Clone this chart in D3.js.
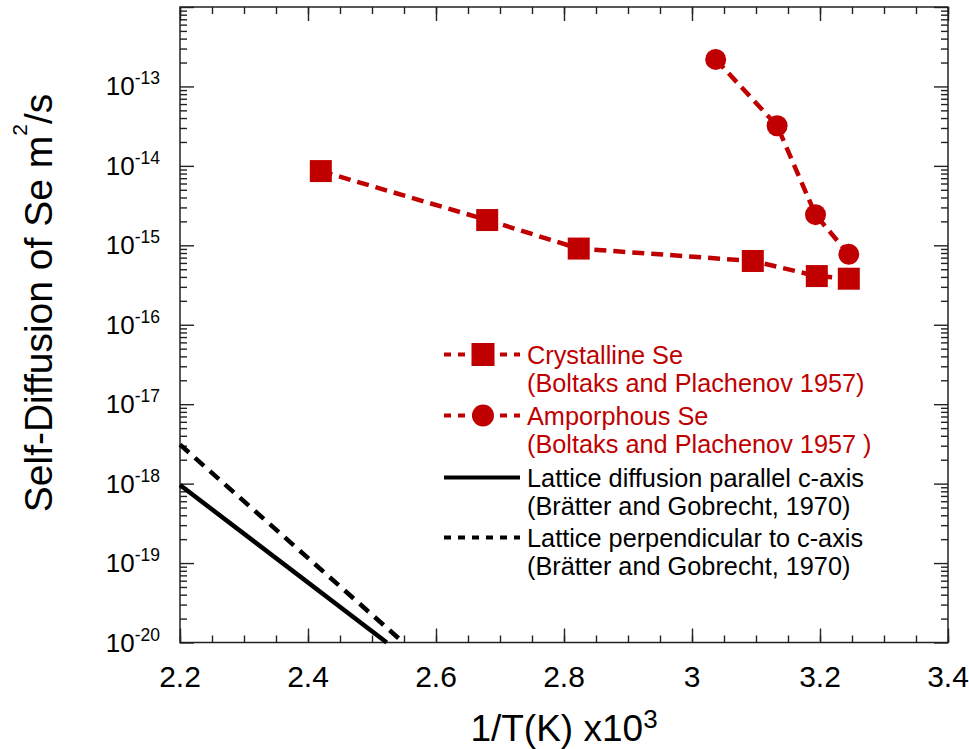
<!DOCTYPE html>
<html><head><meta charset="utf-8">
<script src="https://cdn.jsdelivr.net/npm/d3@7"></script>
<style>body{margin:0;background:#fff}</style>
</head><body><svg id="c" width="969" height="749"></svg>
<script>
// ---- data ----
const crysX = [2.42, 2.68, 2.823, 3.095, 3.195, 3.245];
const crysY = [8.6e-15, 2.08e-15, 9.1e-16, 6.35e-16, 4.1e-16, 3.8e-16];
const amorX = [3.037, 3.133, 3.193, 3.245];
const amorY = [2.19e-13, 3.2e-14, 2.43e-15, 7.7e-16];
const parX = [2.2, 2.523];
const parY = [9.6e-19, 1e-20];
const perpX = [2.2, 2.549];
const perpY = [3.1e-18, 1e-20];
const xTickVals = [2.2, 2.4, 2.6, 2.8, 3.0, 3.2, 3.4];
const xTickLabels = ["2.2", "2.4", "2.6", "2.8", "3", "3.2", "3.4"];
const yTickExps = [-13, -14, -15, -16, -17, -18, -19, -20];
const legendTitles = ["Crystalline Se", "Amporphous Se", "Lattice diffusion parallel c-axis", "Lattice perpendicular to c-axis"];
const legendRefs = ["(Boltaks and Plachenov 1957)", "(Boltaks and Plachenov 1957 )", "(Brätter and Gobrecht, 1970)", "(Brätter and Gobrecht, 1970)"];

const RED = "#c00000";
const FONT = "'Liberation Sans', Arial, sans-serif";
const svg = d3.select("#c");
const L = 180, R = 948, T = 7, B = 642.5;
const x = d3.scaleLinear().domain([2.2, 3.4]).range([L, R]);
const y = d3.scaleLog().domain([1e-20, 1e-12]).range([B, T]);

// tick values
const xMinor = [];
for (let i = 0; i <= 24; i++) xMinor.push(2.2 + i * 0.05);
const yMajor = [], yMinor = [];
for (let k = -20; k <= -12; k++) {
  yMajor.push(Math.pow(10, k));
  if (k < -12) for (let m = 2; m <= 9; m++) yMinor.push(m * Math.pow(10, k));
}

function axisG(axis, tr) {
  const g = svg.append("g").attr("transform", tr).call(axis);
  g.select(".domain").remove();
  g.selectAll(".tick line").attr("stroke", "#222").attr("stroke-width", 1.4);
  g.selectAll(".tick text").remove();
  return g;
}
// bottom / top
axisG(d3.axisBottom(x).tickValues(xMinor).tickSize(-7), `translate(0,${B})`);
axisG(d3.axisBottom(x).tickValues(xTickVals).tickSize(-14), `translate(0,${B})`);
axisG(d3.axisTop(x).tickValues(xMinor).tickSize(-7), `translate(0,${T})`);
axisG(d3.axisTop(x).tickValues(xTickVals).tickSize(-14), `translate(0,${T})`);
// left / right
axisG(d3.axisLeft(y).tickValues(yMinor).tickSize(-7), `translate(${L},0)`);
axisG(d3.axisLeft(y).tickValues(yMajor).tickSize(-14), `translate(${L},0)`);
axisG(d3.axisRight(y).tickValues(yMinor).tickSize(-7), `translate(${R},0)`);
axisG(d3.axisRight(y).tickValues(yMajor).tickSize(-14), `translate(${R},0)`);

// frame
svg.append("rect").attr("x", L).attr("y", T).attr("width", R - L).attr("height", B - T)
  .attr("fill", "none").attr("stroke", "#222").attr("stroke-width", 1.5);

// x tick labels
svg.append("g").selectAll("text").data(xTickVals).join("text")
  .attr("x", d => x(d)).attr("y", 687).attr("text-anchor", "middle")
  .attr("font-family", FONT).attr("font-size", 30).attr("fill", "#000")
  .text((d, i) => xTickLabels[i]);

// y tick labels
const yl = svg.append("g").selectAll("text").data(yTickExps).join("text")
  .attr("x", 160).attr("y", d => y(Math.pow(10, d)) + 9).attr("text-anchor", "end")
  .attr("font-family", FONT).attr("font-size", 26).attr("fill", "#000");
yl.append("tspan").text("10");
yl.append("tspan").attr("dy", -11).attr("font-size", 17.5).text(d => String(d));

// axis titles
const xt = svg.append("text").attr("x", (L + R) / 2).attr("y", 741).attr("text-anchor", "middle")
  .attr("font-family", FONT).attr("font-size", 37).attr("fill", "#000");
xt.append("tspan").text("1/T(K) x10");
xt.append("tspan").attr("dy", -13).attr("font-size", 26).text("3");

const yt = svg.append("text").attr("transform", "translate(52,303) rotate(-90)").attr("text-anchor", "middle")
  .attr("font-family", FONT).attr("font-size", 39).attr("fill", "#000");
yt.append("tspan").text("Self-Diffusion of Se m");
yt.append("tspan").attr("dy", -25).attr("font-size", 21).text("2");
yt.append("tspan").attr("dy", 25).text("/s");

// lines
const line = d3.line().x(d => x(d[0])).y(d => y(d[1]));
const zip = (a, b) => a.map((v, i) => [v, b[i]]);
svg.append("path").datum(zip(parX, parY)).attr("d", line)
  .attr("fill", "none").attr("stroke", "#000").attr("stroke-width", 4.5);
svg.append("path").datum(zip(perpX, perpY)).attr("d", line)
  .attr("fill", "none").attr("stroke", "#000").attr("stroke-width", 4.5).attr("stroke-dasharray", "12,8");
svg.append("path").datum(zip(crysX, crysY)).attr("d", line)
  .attr("fill", "none").attr("stroke", RED).attr("stroke-width", 4.5).attr("stroke-dasharray", "12,7");
svg.append("path").datum(zip(amorX, amorY)).attr("d", line)
  .attr("fill", "none").attr("stroke", RED).attr("stroke-width", 4.5).attr("stroke-dasharray", "12,7");

// markers
const S = 22;
svg.append("g").selectAll("rect").data(zip(crysX, crysY)).join("rect")
  .attr("x", d => x(d[0]) - S / 2).attr("y", d => y(d[1]) - S / 2)
  .attr("width", S).attr("height", S).attr("fill", RED);
svg.append("g").selectAll("circle").data(zip(amorX, amorY)).join("circle")
  .attr("cx", d => x(d[0])).attr("cy", d => y(d[1])).attr("r", 10.5).attr("fill", RED);

// legend
const lx0 = 444, lx1 = 520, lmx = 483, ltx = 527;
const rows = [
  {base: 364, color: RED, dash: "7,7", marker: "square"},
  {base: 425, color: RED, dash: "7,7", marker: "circle"},
  {base: 487, color: "#000", dash: null, marker: null},
  {base: 547, color: "#000", dash: "7,7", marker: null}
];
const lg = svg.append("g");
rows.forEach((r, i) => {
  const ly = r.base - 9.5;
  const p = lg.append("line").attr("x1", lx0).attr("x2", lx1).attr("y1", ly).attr("y2", ly)
    .attr("stroke", r.color).attr("stroke-width", 4);
  if (r.dash) p.attr("stroke-dasharray", r.dash);
  if (r.marker === "square") lg.append("rect").attr("x", lmx - 11.5).attr("y", ly - 11.5).attr("width", 23).attr("height", 23).attr("fill", r.color);
  if (r.marker === "circle") lg.append("circle").attr("cx", lmx).attr("cy", ly).attr("r", 11).attr("fill", r.color);
  lg.append("text").attr("x", ltx).attr("y", r.base).attr("font-family", FONT).attr("font-size", 25.3)
    .attr("fill", r.color).text(legendTitles[i]);
  lg.append("text").attr("x", ltx).attr("y", r.base + 28).attr("font-family", FONT).attr("font-size", 25.3)
    .attr("fill", r.color).text(legendRefs[i]);
});
</script></body></html>
